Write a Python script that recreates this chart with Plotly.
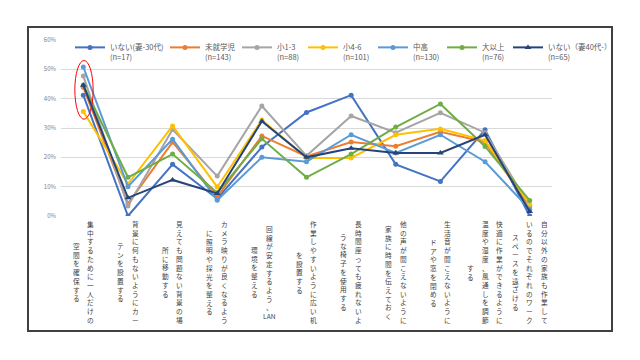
import re
import plotly.graph_objects as go

# ---- data ----
categories = [
    "集中するために一人だけの\n空間を確保する",
    "背景に何もないようにカー\nテンを設置する",
    "見えても問題ない背景の場\n所に移動する",
    "カメラ映りが良くなるよう\nに照明や採光を整える",
    "回線が安定するよう、LAN\n環境を整える",
    "作業しやすいように広い机\nを設置する",
    "長時間座っても疲れないよ\nうな椅子を使用する",
    "他の声が聞こえないように\n家族に時間を伝えておく",
    "生活音が聞こえないように\nドアや窓を閉める",
    "快適に作業ができるように\n温度や湿度、風通しを調節\nする",
    "自分以外の家族も作業して\nいるのでそれぞれのワーク\nスペースを遠ざける",
]

series_names = ["いない(妻-30代)", "未就学児", "小1-3", "小4-6", "中高", "大以上", "いない（妻40代-）"]
series_n = ["(n=17)", "(n=143)", "(n=88)", "(n=101)", "(n=130)", "(n=76)", "(n=65)"]

v_wife30 = [41.2, 0.0, 17.6, 5.9, 23.5, 35.3, 41.2, 17.6, 11.8, 29.4, 0.0]
v_preschool = [43.9, 4.2, 25.2, 6.6, 27.3, 20.3, 25.2, 23.8, 28.7, 25.2, 3.2]
v_elem13 = [47.7, 3.4, 29.5, 13.6, 37.5, 20.5, 34.1, 28.4, 35.2, 28.4, 3.4]
v_elem46 = [35.6, 10.9, 30.7, 9.9, 32.7, 19.8, 19.8, 27.7, 29.7, 25.7, 4.0]
v_junior = [50.8, 10.0, 26.2, 5.4, 20.0, 18.5, 27.7, 21.5, 27.7, 18.5, 2.3]
v_college = [44.7, 13.2, 21.1, 7.9, 26.3, 13.2, 21.1, 30.3, 38.2, 23.7, 5.3]
v_wife40 = [44.6, 6.2, 12.3, 7.7, 32.3, 20.0, 23.1, 21.5, 21.5, 27.7, 1.5]

series_values = [v_wife30, v_preschool, v_elem13, v_elem46, v_junior, v_college, v_wife40]
series_colors = ["#4472C4", "#ED7D31", "#A5A5A5", "#FFC000", "#5B9BD5", "#70AD47", "#264478"]
series_symbols = ["circle", "circle", "circle", "circle", "circle", "circle", "triangle-up"]
legend_widths = [50, 27, 21, 25, 24, 21, 70]

y_tickvals = [0, 10, 20, 30, 40, 50, 60]
y_ticktext = ["0%", "10%", "20%", "30%", "40%", "50%", "60%"]

FONT = "Noto Sans CJK JP, Noto Sans, sans-serif"
TXT = "#595959"

# page offset (body margin) compensation
OFF = 8
L, R, T, B = 61 - OFF, 552 - OFF, 40 - OFF, 216 - OFF
def px2x(p): return (p - OFF - L) / (R - L)
def py2y(p): return (B - (p - OFF)) / (B - T)

fig = go.Figure()
xs = list(range(len(categories)))
for name, n, vals, col, sym, lw in zip(series_names, series_n, series_values,
                                       series_colors, series_symbols, legend_widths):
    fig.add_trace(go.Scatter(
        x=xs, y=vals, mode="lines+markers",
        name=f"{name}<br>{n}", legendwidth=lw,
        line=dict(color=col, width=2),
        marker=dict(color=col, size=5 if sym == "circle" else 6, symbol=sym),
    ))

# vertical (tategaki-like) category labels: one annotation per column
PITCH = 14.5
for i, cat in enumerate(categories):
    cols = cat.split("\n")
    nc = len(cols)
    for j, c in enumerate(cols):
        tokens = re.findall(r"[A-Za-z]+|.", c)
        fig.add_annotation(
            x=i, y=0, xref="x", yref="y",
            text="<br>".join(tokens),
            showarrow=False, xanchor="center", yanchor="middle",
            xshift=((nc - 1) / 2 - j) * PITCH, yshift=-56,
            font=dict(family=FONT, size=6.7, color="#404040"),
        )

# red highlight ellipse around the first category
fig.add_shape(type="circle", xref="x", yref="y", x0=-0.19, x1=0.22, y0=33, y1=53,
              line=dict(color="#FF0000", width=1))

# outer chart frame
fig.add_shape(type="rect", xref="paper", yref="paper",
              x0=px2x(28), x1=px2x(612), y0=py2y(331), y1=py2y(27),
              line=dict(color="#404040", width=2), layer="above")

legend_total = sum(legend_widths) + 45 * len(legend_widths)

fig.update_layout(
    width=640, height=360,
    margin=dict(l=L, r=640 - R, t=T, b=360 - B),
    paper_bgcolor="white", plot_bgcolor="white",
    font=dict(family=FONT, color=TXT),
    showlegend=True,
    legend=dict(
        orientation="h", x=px2x(70 + legend_total), y=py2y(36),
        xanchor="right", yanchor="top",
        bgcolor="rgba(0,0,0,0)", font=dict(family=FONT, size=7.5, color=TXT),
        valign="top", itemwidth=30,
    ),
    xaxis=dict(range=[-0.5, len(categories) - 0.5], showticklabels=False, showgrid=False,
               zeroline=False, showline=False, ticks=""),
    yaxis=dict(range=[0, 60], tickvals=y_tickvals, ticktext=y_ticktext,
               showgrid=True, gridcolor="#D9D9D9", gridwidth=1, zeroline=False,
               showline=False, ticks="", ticklabelstandoff=4,
               tickfont=dict(family=FONT, size=6, color="#808080")),
)

fig.write_html("out.html")
